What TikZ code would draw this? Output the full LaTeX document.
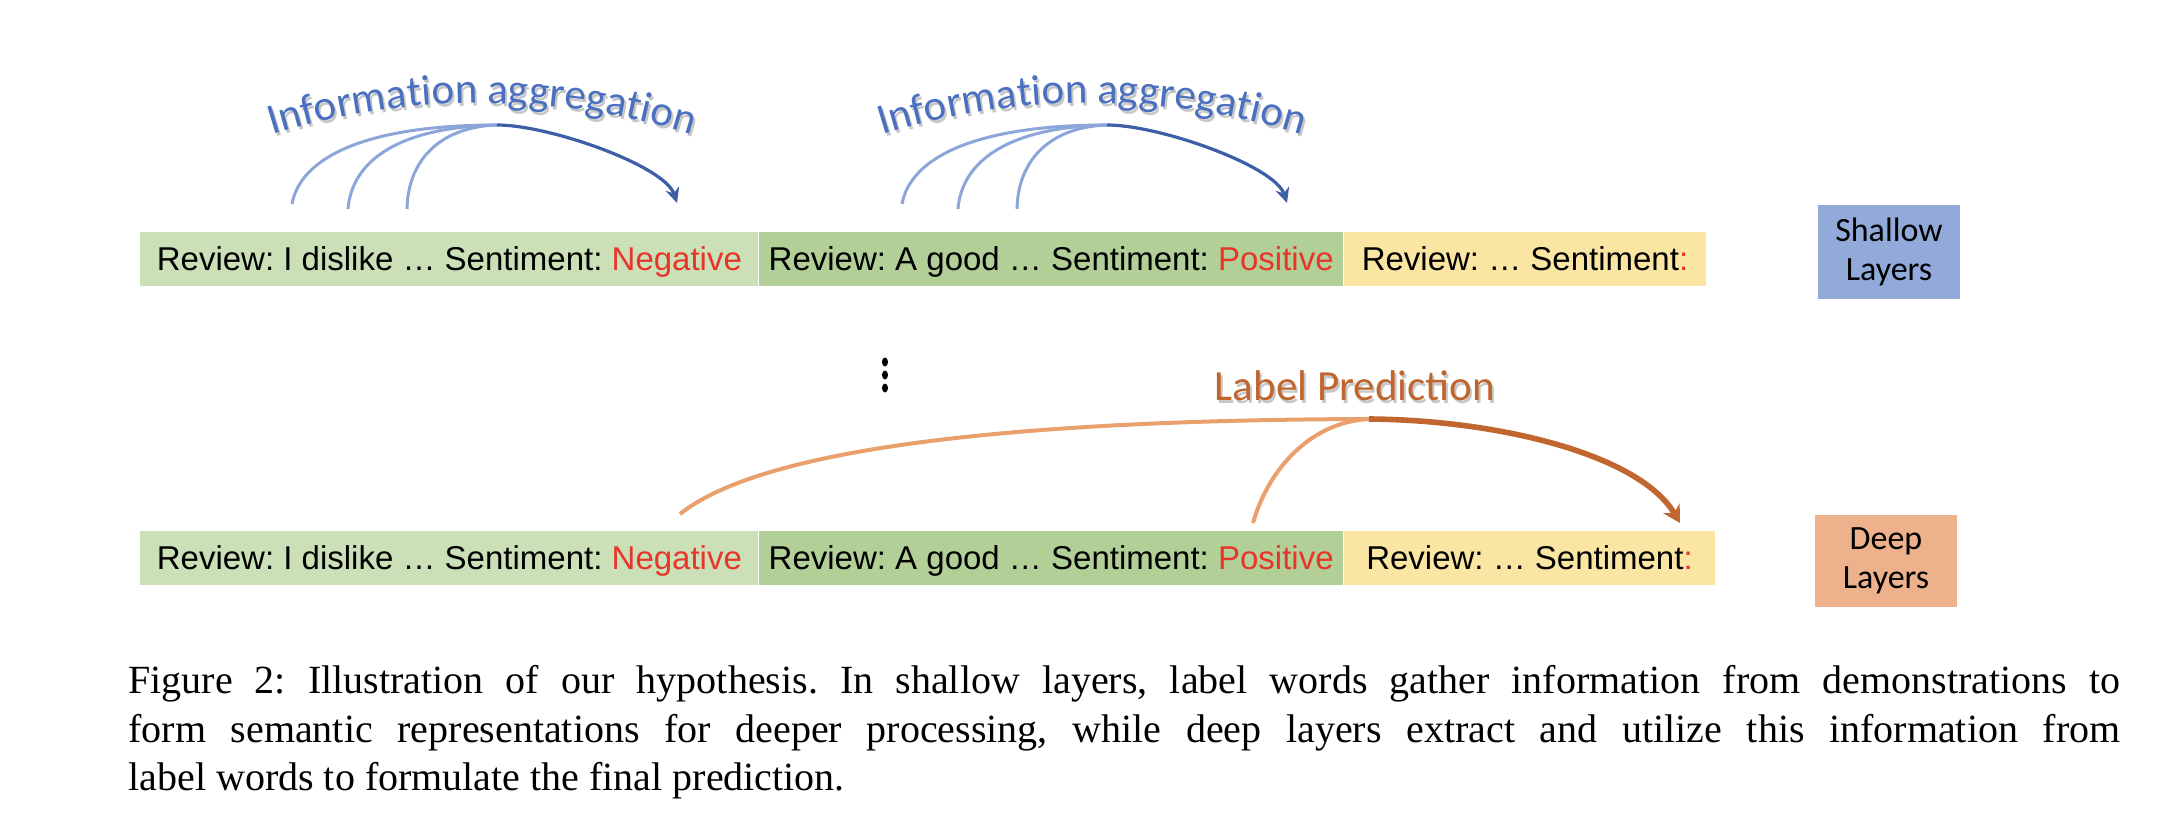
\documentclass[tikz,border=0pt]{standalone}
\usepackage{fontspec}
\setmainfont{Liberation Serif}
\setsansfont{Liberation Sans}
\newfontfamily\calfont{Carlito}
\usetikzlibrary{positioning,arrows.meta,decorations.text}

\definecolor{demolight}{HTML}{CCE0B8}
\definecolor{demodark}{HTML}{B2CF97}
\definecolor{querybg}{HTML}{FBE5A2}
\definecolor{labelred}{HTML}{E8352A}
\definecolor{shallowbg}{HTML}{91AADA}
\definecolor{deepbg}{HTML}{EDB28B}
\definecolor{aggtext}{HTML}{4A70BF}
\definecolor{aggsrc}{HTML}{8CA6DA}
\definecolor{aggmain}{HTML}{3C5FA8}
\definecolor{predtext}{HTML}{C0652E}
\definecolor{predlight}{HTML}{E9A06C}
\definecolor{preddark}{HTML}{C0662E}

\begin{document}
\frenchspacing
\begin{tikzpicture}[x=0.5pt, y=-0.5pt,
    seg/.style={inner xsep=0pt, inner ysep=0pt, minimum height=27pt,
      text height=11.8pt, text depth=0pt, font=\sffamily\fontsize{16.5}{19}\selectfont},
    layerbox/.style={minimum width=71pt, minimum height=47pt, inner sep=0pt,
      align=center, font=\calfont\fontsize{17}{19.5}\selectfont},
    aggsrcline/.style={line width=1.5pt, aggsrc},
    aggarrow/.style={line width=1.6pt, aggmain, -{Stealth[length=7.5pt, width=7pt]}},
    aggword/.style={decorate, decoration={text along path, text align=center,
      text={|\calfont\fontsize{21.5}{24}\selectfont|Information aggregation}}},
    predline/.style={line width=2pt, predlight},
    predarrow/.style={line width=2.8pt, preddark, -{Stealth[length=8.5pt, width=9.5pt]}}]
  \useasboundingbox (0,0) rectangle (2176,830);

  % shallow layers
  \node[seg, fill=demolight, minimum width=309pt, anchor=west] (neg1) at (140,259)
    {Review: I dislike … Sentiment: \textcolor{labelred}{Negative}};
  \node[seg, fill=demodark, minimum width=292pt, right=0pt of neg1] (pos1)
    {Review: A good … Sentiment: \textcolor{labelred}{Positive}};
  \node[seg, fill=querybg, minimum width=181pt, right=0pt of pos1] (qry1)
    {Review: … Sentiment\textcolor{labelred}{:}};
  \node[layerbox, fill=shallowbg] (shallow) at (1889,252) {Shallow\\Layers};

  \foreach \x [count=\i] in {497,1107}{
    \coordinate (agg\i) at (\x,125);
    \coordinate (aggend\i) at (\x+180,203);
    \coordinate (srca\i) at (\x-205,204);
    \coordinate (srcb\i) at (\x-149,209);
    \coordinate (srcc\i) at (\x-90,209);
    \draw[aggsrcline] (srca\i) .. controls +(8,-44) and +(-137,0) .. (agg\i);
    \draw[aggsrcline] (srcb\i) .. controls +(4,-49) and +(-97,2) .. (agg\i);
    \draw[aggsrcline] (srcc\i) .. controls +(1,-49) and +(-57,2) .. (agg\i);
    \draw[aggarrow] (agg\i) .. controls +(53,0) and +(-12,-37) .. (aggend\i);
    \path[aggword, decoration={text color=black!22}, xshift=1pt, yshift=-1.5pt]
      (\x-225,135) .. controls (\x-88.5,92.5) and (\x+58.5,92.5) .. (\x+195,135);
    \path[aggword, decoration={text color=aggtext}]
      (\x-225,135) .. controls (\x-88.5,92.5) and (\x+58.5,92.5) .. (\x+195,135);
  }

  % dots between the layers
  \foreach \y in {362,375,388}
    \fill (885,\y) ellipse [x radius=3, y radius=4.5];

  % deep layers
  \node[seg, fill=demolight, minimum width=309pt, anchor=west] (neg2) at (140,558)
    {Review: I dislike … Sentiment: \textcolor{labelred}{Negative}};
  \node[seg, fill=demodark, minimum width=292pt, right=0pt of neg2] (pos2)
    {Review: A good … Sentiment: \textcolor{labelred}{Positive}};
  \node[seg, fill=querybg, minimum width=185.5pt, right=0pt of pos2] (qry2)
    {Review: … Sentiment\textcolor{labelred}{:}};
  \node[layerbox, fill=deepbg, minimum height=46pt] (deep) at (1886,561) {Deep\\Layers};

  \coordinate (pred) at (1369,419);
  \coordinate (negsrc) at (680,514);
  \coordinate (possrc) at (1253,523);
  \coordinate (predend) at (1680,523);
  \draw[predline] (negsrc) .. controls +(80,-64) and +(-369,1) .. (pred);
  \draw[predline] (possrc) .. controls +(15,-53) and +(-59,3) .. (pred);
  \draw[predarrow] (pred) .. controls +(131,1) and +(-40,-68) .. (predend);
  \node[anchor=base, inner sep=0pt, text=predtext, font=\calfont\fontsize{21.5}{24}\selectfont]
    (predlabel) at (1355,400)
    {\rlap{\hspace{1pt}\raisebox{-1.5pt}{\textcolor{black!22}{Label Prediction}}}Label Prediction};

  % caption
  \node[anchor=north west, inner sep=0pt, text width=996pt, align=justify,
    font=\fontsize{20}{24.25}\selectfont] (caption) at (128,665)
    {Figure 2: Illustration of our hypothesis. In shallow layers, label words gather information from demonstrations to\linebreak
     form semantic representations for deeper processing, while deep layers extract and utilize this information from\linebreak
     label words to formulate the final prediction.};
\end{tikzpicture}
\end{document}
